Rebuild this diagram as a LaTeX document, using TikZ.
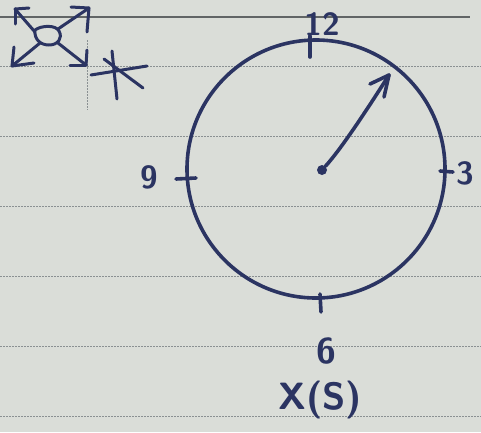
\documentclass[tikz,border=0pt]{standalone}
\usetikzlibrary{arrows.meta}
\begin{document}
\begin{tikzpicture}[x=1pt,y=-1pt,
  ink/.style={draw=inkc,line width=3.6pt,line cap=round,line join=round},
  rule/.style={draw=rulec,line width=1pt,dash pattern=on 2pt off 1pt},
  lbl/.style={text=inkc,font=\sffamily\bfseries\fontsize{32}{32}\selectfont,inner sep=0pt}]
\definecolor{paper}{HTML}{DADDD8}
\definecolor{inkc}{HTML}{2B3462}
\definecolor{rulec}{HTML}{8A9092}
\useasboundingbox (0,0) rectangle (481,432);
\fill[paper] (0,0) rectangle (481,432);
% ruled lines
\draw[draw=rulec!70!black,line width=1.4pt] (0,17) -- (470,17);
\foreach \yy in {66,136,206,276,346,416} \draw[rule] (0,\yy) -- (481,\yy);
\draw[rule] (87,40) -- (87,110);
% corner symbol
\coordinate (tl) at (15,9);
\coordinate (tr) at (89,8);
\coordinate (bl) at (12,66);
\coordinate (br) at (86,65);
\draw[ink,line width=3pt] (35,30) .. controls (42,25) and (56,25) .. (59,31) .. controls (63,38) and (58,45) .. (49,45) .. controls (41,45) and (34,40) .. (35,30);
\draw[ink,line width=3pt] (35,32) -- (tl);
\draw[ink,line width=3pt] (tl) -- (15,24);
\draw[ink,line width=3pt] (tl) -- (29,8);
\draw[ink,line width=3pt] (58,29) -- (tr);
\draw[ink,line width=3pt] (tr) -- (71,7);
\draw[ink,line width=3pt] (tr) -- (87,32);
\draw[ink,line width=3pt] (40,43) -- (bl);
\draw[ink,line width=3pt] (bl) -- (14,47);
\draw[ink,line width=3pt] (bl) -- (34,63);
\draw[ink,line width=3pt] (58,43) -- (br);
\draw[ink,line width=3pt] (br) -- (87,50);
\draw[ink,line width=3pt] (br) -- (70,65);
% asterisk
\draw[ink,line width=3pt] (112,51) -- (117,99);
\draw[ink,line width=3pt] (104,59) -- (143,88);
\draw[ink,line width=3pt] (91,75) -- (147,66);
% clock face
\node[ink,circle,minimum size=258pt,inner sep=0pt] (face) at (316,169) {};
\draw[ink] (310,36) -- (310,57);
\draw[ink] (440,171) -- (453,172);
\draw[ink] (176,179) -- (196,178);
\draw[ink] (320,294) -- (321,312);
\node[lbl] (n12) at (322,24) {12};
\node[lbl] (n3) at (465,173) {3};
\node[lbl] (n9) at (149,177) {9};
\node[lbl,font=\sffamily\bfseries\fontsize{36}{36}\selectfont] (n6) at (326,351) {6};
\node[lbl,font=\sffamily\bfseries\fontsize{38}{38}\selectfont] (xs) at (320,400) {X(S)};
% hand
\node[fill=inkc,circle,minimum size=10pt,inner sep=0pt] (ctr) at (322,170) {};
\coordinate (tip) at (389,75);
\draw[ink] (ctr) .. controls (342,148) and (370,105) .. (tip);
\draw[ink] (tip) -- (370,84);
\draw[ink] (tip) -- (384,97);
\end{tikzpicture}
\end{document}
